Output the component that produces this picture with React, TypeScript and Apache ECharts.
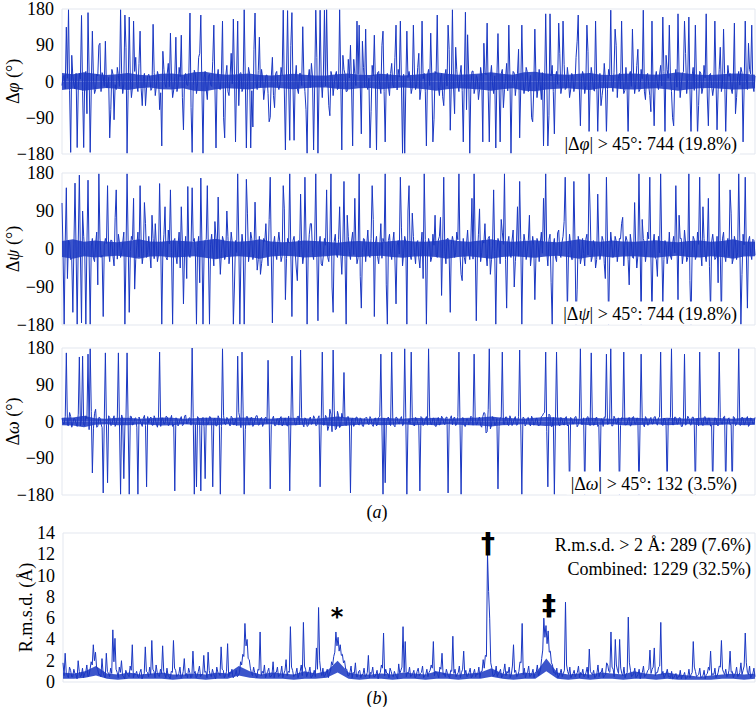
import React, { useEffect, useRef } from "react";
import * as echarts from "echarts";

// Δφ per residue (degrees): first and second residue of each pair
const phiValues = [
  -10, 15, 135, 178, -176, 12, -18, -164, 20, 164, -164, 25, 171, -176, 125, -30, 18, 90, -25, 12,
  100, -15, -140, 30, -95, -20, 15, 178, -30, 165, -178, 160, -40, 150, 60, -25, 125, -60, 20, -15,
  18, -22, 142, -35, 25, -70, -160, 30, -15, 45, 120, -40, 12, -25, 35, 115, -120, 20, -10, 170,
  -176, 28, -30, 60, 165, -178, 25, -45, 18, -12, 140, -165, 30, -20, 150, -140, 40, -35, 70, 155,
  -150, 150, 20, -25, 178, -165, 35, -165, -113, 170, -20, 110, 30, -45, 15, -30, -89, 60, -65, 25,
  -20, 35, 177, -170, 176, -146, 171, -146, 40, -30, 20, 136, -25, -178, 30, 45, -170, 177, -178, 177,
  -40, 177, 178, -60, 25, -35, 15, -20, 178, -170, 30, -25, 55, 90, -160, 20, 150, 140, -130, 35,
  130, -20, -165, 40, 115, -170, 25, -30, 125, -150, 20, -35, 45, -15, 140, 30, 150, -178, -178, 125,
  25, -30, 140, -20, 35, -45, 150, 20, -160, 30, 120, -150, 25, 165, -35, 20, -60, 30, 140, -121,
  178, -80, 30, -25, 40, -150, 172, 116, -178, 25, -30, 15, -45, 35, -150, 20, 145, -150, 40, -30,
  -165, 119, -150, 30, -20, 45, 140, -178, 25, -35, 20, -140, 140, -30, 35, -25, 15, -100, 130, -40,
  30, -45, -160, 168, -160, 168, 40, -130, 25, 145, -30, 150, -20, 35, -40, 20, -25, 60, 165, -110,
  25, -30, 140, -130, 35, -20, 150, -125, 20, -35, 45, -130, 30, 177, -25, 130, -40, 20, 150, -30,
  35, -140, 25, 130, -30, 40, -25, 30, 177, -45, 20, -35, 150, -110, 25, -20, 40, 160, -130, 30,
  140, -25, -110, 30, 168, -40, 20, 150, -30, 160, -130, 35, 140, -135, 25, -30, 40, 168, -110, 20,
  -35, 150, -120, 30, -25, 130, -130, 40, 20, -30, 145, -40, 25, 35, -150, 150, -20, 30, 140, -25,
];
const phiValues2 = [
  12, -18, 8, -22, 65, -9, 20, -14, 6, -25, 18, -80, 24, -16, 9, -20, 14, 95, 22, -12,
  -15, 10, -70, 18, -8, 35, -12, 20, -6, 85, -22, 9, -14, 25, -10, 45, -18, 7, -60, 13,
  8, -16, 22, -11, 14, -28, 75, -7, 19, -13, 6, -21, 110, -9, 12, -40, 15, -8, 23, -65,
  -10, 18, -6, 70, -15, 9, -20, 13, -8, 50, -12, 7, -18, 21, -90, 14, -25, 11, -6, 17,
  14, -60, 22, -17, 8, -12, 19, -23, 80, -6, 27, -14, 9, -19, 16, -100, 12, -35, 20, -11,
  -7, 15, -21, 12, -9, 90, -13, 6, -18, 20, -10, 14, -70, 8, -15, 11, -6, 60, -12, 9,
  16, -11, 7, -85, 13, -8, 25, -15, 10, 65, 18, -24, 9, -13, 55, -10, 17, -7, 100, -14,
  -12, 8, -75, 14, -7, 22, -10, 90, -25, 9, -13, 20, -8, 60, -21, 11, -6, 18, -14, 10,
  9, -15, 21, -8, 70, -19, 7, -24, 16, -10, 12, -95, 20, -14, 9, -38, 15, -11, 80, -7,
  -13, 85, -9, 15, -22, 10, -70, 18, -12, 26, -15, 8, -20, 13, 95, 17, -25, 11, -9, 14,
  10, -7, 19, -65, 8, -23, 15, -10, 21, -6, 80, -18, 9, -12, 24, -8, -90, -20, 11, -15,
  -8, 22, -13, 9, -85, 14, -25, 10, -7, 70, -11, 42, -16, 8, -21, 12, -9, 100, -14, 7,
  15, -10, 75, -7, 12, -24, 9, -15, -60, -11, 6, -20, 14, -9, 23, 90, 8, -17, 11, -22,
  -9, 16, -12, 21, -8, 80, -19, 7, -24, 15, -10, -75, -14, 9, -6, 18, -11, 25, 65, 8,
  12, -90, 8, -14, 19, -9, 24, 70, 7, -17, 14, -22, 10, -60, 21, -15, 9, -36, 16, -10,
  -14, 9, -21, 85, -7, 20, -11, 13, -18, 8, -80, 12, -9, 22, -13, 7, 95, 19, -10, 14,
];

// Δψ per residue (degrees)
const psiValues = [
  109, -178, 145, 20, -25, -150, 156, -178, 175, -175, 30, -178, 163, -178, 25, -30, 40, 178, -20, -160,
  25, 150, -30, 20, -40, 140, 35, -20, 15, -178, 178, -150, 30, 120, -25, 40, 150, -35, 110, -20,
  30, -45, 25, 60, -30, 155, -178, 35, -20, 45, 140, -178, 25, -35, 40, 100, -130, 30, 148, -20,
  145, 25, -178, 30, 168, -178, 20, 150, -178, 35, -40, 25, 123, -60, 30, -25, 90, -35, 40, -178,
  20, 178, -178, 35, -178, 165, -30, 40, -25, 111, -50, 30, -35, 25, 60, -40, 170, -175, 30, -25,
  40, -30, 150, -120, 25, 178, -160, 30, -45, 20, 130, -35, 170, -178, 35, 60, -25, 178, -170, 30,
  -40, 25, 140, -30, 178, -150, 35, -20, 100, -60, 160, -178, 30, -25, 40, 120, -35, 178, -140, 25,
  -30, 45, -20, 150, -160, 30, -35, 60, 25, 178, -178, 35, -25, 40, -130, 20, 170, -40, 30, -178,
  150, -25, 30, -35, 20, -45, 40, 178, -178, 25, -30, 35, 80, -20, 30, -110, 170, -35, 25, -150,
  30, -20, 40, 178, -60, 25, -35, 45, -25, 120, 178, -170, 35, -30, 20, 60, -40, 30, -25, 140,
  -178, 25, -35, 40, 178, -140, 30, -20, 45, -30, 100, 160, -178, 35, -25, 20, -40, 30, -120, 25,
  -30, 40, 120, 178, -40, 35, -178, 25, -30, 45, -20, 30, 170, -150, 35, -25, 160, -178, 30, -35,
  25, -40, 35, 178, -30, 20, -45, 130, -25, 30, -35, 170, -178, 40, -20, 30, -30, 25, 60, -40,
  30, -25, 35, -20, 110, -45, 178, -178, 25, -30, 40, 170, -160, 35, -25, 30, 178, -130, 20, -35,
  40, -25, 30, 150, -120, 25, -35, 45, -30, 178, -178, 30, -25, 40, 170, -40, 25, -30, 120, -150,
  35, -25, 30, 178, -170, 40, -30, 25, 140, -35, 30, -25, 178, -178, 35, 170, -140, 30, -25, 20,
];
const psiValues2 = [
  -14, 20, -70, 16, -22, 11, -6, 19, -13, 90, -9, 15, -18, 7, -21, 12, -85, 26, -15, 9,
  13, -7, 21, -16, 75, -24, 14, -9, 40, -12, 18, -6, 22, -95, 8, -19, 15, -11, 60, -8,
  -10, 80, -23, 9, -13, 20, -7, 100, -26, 12, -8, 19, -15, 10, -45, 14, -9, -70, -12, 7,
  18, -11, 6, -80, 14, -9, 23, -15, 10, -7, 65, -22, 12, -8, 19, -13, 30, -10, 15, -90,
  -8, 21, -14, 10, -19, 85, -7, 24, -11, 16, -25, -60, -12, 18, -6, 70, -16, 11, -9, 14,
  11, -17, 95, -23, 15, -10, 20, -6, -75, -19, 8, -14, 26, -11, 60, -8, 21, -15, 10, -35,
  -15, 9, -20, 14, -90, 18, -12, 22, -9, 16, -24, 80, -6, 19, -13, 10, -21, -65, -8, 23,
  10, -14, 25, 70, 13, -18, 7, -22, 16, -85, 20, -7, 14, -26, 9, -12, 50, -10, 17, 90,
  -12, 85, -8, 15, -21, 10, -70, 23, -7, 13, -19, 9, -14, 21, 75, 17, -6, 24, -15, 11,
  16, -9, 22, -13, -75, -20, 12, -7, 18, -24, 10, -15, 95, -8, 14, -11, 25, -60, 9, -6,
  -7, 15, 70, 11, -25, 14, -9, 21, -90, 8, -17, 23, -10, 16, -6, 80, -14, 9, -22, 13,
  14, -10, 18, -7, 22, -80, 9, -19, 38, -11, 15, 65, 21, -13, 10, -24, 17, -95, 12, -20,
  -11, 23, -14, 90, -18, 12, -25, 16, -9, 20, -70, 13, -21, 10, -15, 19, -8, 24, 75, 9,
  20, -85, 13, -22, 9, -16, 21, 70, 15, -7, 24, -14, 10, -19, -65, -9, 12, -25, 8, -13,
  -16, 12, -9, 19, 80, 25, -10, 15, -20, -75, -12, 22, -17, 11, -7, 100, -13, 9, -42, 16,
  9, -21, -80, -10, 24, -13, 7, -18, 85, -23, 16, -9, 20, -60, 10, -6, 19, -11, 23, -15,
];

// Δω per residue (degrees)
const omegaValues = [
  8, -6, 168, -10, 12, -4, 6, -12, 158, 4, -8, 14, 165, 178, -126, 20, -14, 10, -6, -175,
  168, -150, 10, -8, 14, -5, 168, -178, 6, -10, 168, -178, 12, -6, 9, -178, 4, -12, 15, -160,
  -4, 11, -9, 6, -14, 170, 8, -6, 13, -10, 5, -12, -170, 7, -5, 12, -8, 16, -3, 9,
  180, -178, -160, 8, -170, 10, -140, -7, 12, -9, 6, -11, 14, -178, 178, -6, 10, -4, 13, -8,
  6, 160, 8, 170, -178, 12, -7, 9, -12, 5, 14, -8, 10, -5, 11, 150, -165, 7, -10, 6,
  -9, 12, -6, 8, -11, -170, 160, 7, -8, 13, 175, -6, 9, -12, 5, -7, 14, -10, 8, -160,
  170, -8, 10, -12, 18, 175, -20, 25, -15, 20, 120, -10, 12, -175, 8, -6, 11, -9, 6, -12,
  9, -5, 12, -8, 6, -11, 10, 165, -178, -150, 8, -6, 170, -9, 11, -4, 7, -10, 178, -178,
  6, 170, -8, 10, -5, -170, 9, -7, 12, 178, -6, 8, -11, 5, -9, 13, -4, 10, -175, 7,
  -8, 11, -6, 170, -178, 9, -12, 6, -5, 10, 165, -8, 7, -10, 12, 20, -25, 178, -9, 8,
  -6, -165, 9, 170, -7, 11, -10, 6, -4, 12, -8, 175, -178, 9, -6, 10, -11, 7, -5, 8,
  -9, 12, 20, 170, -160, 15, -12, -178, 170, -8, 10, -6, 9, -11, -175, 7, -5, 12, -8, 178,
  -7, -178, 10, -5, 168, -9, 8, -12, -170, 6, 11, 165, -6, 178, -10, 7, -4, -178, 9, 170,
  -8, 6, -11, 10, -5, 8, -178, 165, -7, 12, -9, 5, -6, 11, -4, 9, 170, -10, 7, -165,
  6, 178, -8, 10, -6, 9, -12, 165, -5, 8, -9, 11, -178, 7, 170, -6, 10, -4, 8, -11,
  -170, 9, -7, 170, -5, 11, -175, 6, -8, -178, 10, -6, 178, -9, 7, -4, 12, -8, 6, -5,
];
const omegaValues2 = [
  -5, 12, -9, 22, -14, 8, -6, 18, -11, 160, -10, 7, -20, 25, -18, 30, -12, 9, -15, 6,
  -8, 14, -10, 6, -12, 9, -7, 16, -140, 10, -6, 13, -9, 7, -14, 11, -5, 8, -10, 12,
  7, -9, 14, -6, 10, -12, 8, -5, 11, -8, 15, -7, 9, -11, 6, -10, 13, -6, 8, -9,
  10, -7, 12, -9, 6, -13, 9, -6, 11, -160, 8, -10, 7, -12, 14, -8, 6, -11, 9, -7,
  -10, 22, -15, 28, -20, 12, -8, 10, -6, 14, -9, 7, -12, 8, -5, 11, -7, 13, -10, 6,
  8, -11, 7, -9, 13, -6, 10, -8, 12, -7, 9, -13, 6, -10, 11, -5, 8, -9, 14, -7,
  -9, 15, -22, 30, -25, 28, -18, 14, -10, 9, -7, 11, -8, 6, -12, 10, -6, 9, -11, 7,
  10, -8, 6, -12, 9, -7, 13, -9, 8, -6, 11, -10, 7, -13, 9, -6, 12, -8, 10, -7,
  -6, 9, -11, 7, -8, 12, -10, 6, -9, 13, -7, 8, -12, 10, -6, 9, -8, 11, -7, 14,
  8, -10, 12, -7, 9, -11, 6, -8, 13, -9, 10, -6, 11, -14, 22, -28, 30, -18, 12, -9,
  7, -12, 9, -6, 11, -8, 14, -10, 6, -9, 12, -7, 10, -11, 8, -6, 13, -9, 7, -10,
  -8, 14, 22, -25, 18, -12, 10, -7, 9, -11, 6, -9, 12, -8, 10, -6, 11, -13, 8, -7,
  9, -6, 12, -10, 7, -8, 11, -9, 6, -12, 10, -7, 8, -11, 13, -6, 9, -10, 7, -8,
  -7, 10, -9, 12, -6, 8, -11, 9, -13, 7, -8, 10, -6, 12, -9, 11, -7, 8, -10, 6,
  10, -8, 11, -6, 9, -12, 7, -9, 13, -7, 10, -8, 6, -11, 9, -10, 12, -6, 8, -9,
  -9, 7, -11, 10, -6, 13, -8, 9, -7, 12, -10, 6, -9, 11, -8, 7, -12, 9, -6, 10,
];

// R.m.s.d. per residue (Å)
const rmsdValues = [
  1.8, 2.7, 0.6, 1.4, 0.5, 1.2, 0.7, 2.0, 0.5, 1.3, 0.8, 1.6, 0.6, 1.9, 3.5, 2.8, 1.2, 0.7, 2.2, 0.6,
  2.7, 0.8, 1.3, 4.9, 4.1, 0.9, 1.4, 2.0, 0.5, 1.1, 0.7, 1.5, 3.5, 0.8, 1.0, 0.4, 1.2, 0.6, 3.3, 0.9,
  1.4, 3.9, 1.0, 1.6, 0.6, 1.2, 3.4, 0.7, 1.3, 0.5, 1.0, 3.9, 1.1, 0.6, 1.4, 0.5, 2.2, 0.8, 1.3, 0.4,
  2.9, 1.0, 0.6, 1.5, 0.7, 2.5, 1.0, 2.8, 0.6, 1.2, 0.5, 1.4, 0.8, 3.3, 1.1, 0.6, 3.6, 0.9, 1.2, 0.5,
  1.1, 0.6, 1.9, 2.6, 5.5, 4.0, 2.1, 0.8, 1.4, 0.6, 1.2, 4.7, 1.0, 1.6, 0.7, 1.3, 0.5, 1.9, 0.9, 1.4,
  0.6, 1.5, 0.8, 2.1, 1.0, 5.2, 1.1, 0.6, 1.3, 0.7, 1.6, 5.6, 1.2, 0.8, 1.4, 0.5, 1.1, 3.2, 7.0, 1.0,
  1.3, 0.6, 1.2, 0.8, 1.9, 2.4, 4.7, 4.2, 3.5, 2.6, 2.0, 1.2, 0.6, 1.5, 0.9, 1.8, 0.5, 1.1, 0.7, 1.3,
  0.6, 2.5, 0.9, 1.4, 0.5, 1.1, 0.7, 1.6, 4.6, 1.2, 0.8, 1.3, 0.6, 1.0, 0.5, 1.7, 1.1, 5.2, 3.8, 0.9,
  1.4, 0.6, 1.1, 0.5, 1.3, 0.8, 1.5, 0.6, 1.2, 0.9, 1.6, 3.8, 1.0, 0.7, 1.4, 2.7, 0.8, 1.2, 0.5, 1.1,
  4.3, 1.2, 0.7, 1.5, 0.9, 2.9, 1.1, 0.6, 1.3, 0.5, 1.2, 0.8, 1.4, 1.0, 2.1, 2.5, 12.0, 6.0, 1.3, 0.6,
  1.5, 0.8, 1.2, 0.6, 1.7, 1.0, 1.4, 0.7, 3.5, 1.1, 0.6, 1.9, 5.5, 1.3, 0.8, 1.5, 0.6, 1.2, 0.9, 1.6,
  0.8, 2.2, 6.0, 5.3, 4.8, 2.9, 1.6, 0.9, 1.3, 0.6, 1.2, 0.8, 7.5, 1.0, 1.4, 0.6, 1.1, 0.7, 1.5, 0.9,
  1.2, 0.6, 1.4, 3.1, 0.8, 1.1, 0.5, 1.6, 0.9, 1.3, 0.6, 1.8, 1.0, 4.7, 1.2, 4.0, 1.1, 4.0, 0.8, 1.4,
  0.7, 6.1, 1.1, 0.6, 1.3, 0.5, 1.2, 0.8, 1.5, 0.6, 1.1, 3.0, 1.2, 3.2, 0.9, 1.4, 5.6, 1.0, 0.6, 1.2,
  0.5, 1.0, 0.4, 0.8, 0.5, 1.1, 0.6, 0.9, 0.4, 1.2, 0.7, 3.8, 1.0, 0.6, 1.3, 0.5, 1.1, 0.7, 1.4, 2.9,
  0.8, 1.3, 0.6, 1.5, 3.9, 0.9, 1.2, 0.6, 2.9, 1.0, 0.7, 1.4, 0.6, 1.8, 1.1, 4.6, 0.9, 1.5, 0.6, 1.3,
];
const rmsdValues2 = [
  0.6, 0.9, 0.4, 1.1, 0.5, 0.8, 0.3, 1.0, 0.6, 0.4, 0.9, 0.5, 1.2, 1.6, 2.0, 1.4, 0.7, 0.5, 0.9, 0.4,
  1.0, 0.5, 0.8, 1.9, 1.2, 0.4, 0.9, 0.6, 0.3, 0.8, 0.5, 1.1, 0.4, 0.7, 0.5, 0.9, 0.3, 0.8, 1.0, 0.5,
  0.7, 1.2, 0.4, 0.9, 0.5, 0.8, 1.0, 0.4, 0.6, 0.3, 0.9, 1.3, 0.5, 0.8, 0.4, 1.0, 0.6, 0.4, 0.9, 0.5,
  0.8, 0.4, 1.0, 0.5, 0.7, 0.9, 0.4, 1.1, 0.5, 0.8, 0.3, 0.9, 0.6, 1.2, 0.4, 1.0, 0.5, 0.8, 0.4, 0.7,
  0.5, 0.9, 1.6, 2.4, 3.4, 2.2, 1.3, 0.6, 0.9, 0.4, 1.1, 0.6, 0.8, 0.4, 1.0, 0.5, 0.7, 0.4, 0.9, 0.5,
  0.8, 0.4, 1.1, 0.6, 0.9, 1.4, 0.5, 0.8, 0.4, 1.0, 0.6, 1.5, 0.5, 0.9, 0.4, 0.7, 0.5, 1.2, 2.0, 0.6,
  0.5, 0.9, 0.4, 1.0, 1.6, 2.8, 3.4, 2.9, 2.5, 1.8, 1.2, 0.6, 0.9, 0.4, 0.8, 0.5, 1.0, 0.4, 0.7, 0.5,
  0.9, 0.4, 0.8, 0.5, 0.7, 0.3, 0.9, 1.3, 0.6, 0.8, 0.4, 1.0, 0.5, 0.7, 0.3, 0.8, 1.4, 0.9, 0.5, 0.8,
  0.5, 0.8, 0.4, 1.0, 0.6, 0.9, 0.4, 0.7, 0.5, 1.1, 1.3, 0.6, 0.9, 0.4, 1.2, 0.7, 0.5, 0.8, 0.4, 1.0,
  0.8, 0.5, 0.9, 0.4, 1.2, 0.7, 0.5, 0.9, 0.4, 0.8, 0.5, 0.7, 0.4, 1.0, 1.3, 2.4, 8.5, 1.8, 0.6, 0.8,
  0.5, 0.9, 0.4, 1.0, 0.6, 0.8, 0.4, 1.5, 0.9, 0.5, 1.0, 1.8, 0.7, 0.4, 0.9, 0.5, 0.8, 0.4, 0.9, 0.6,
  1.2, 3.0, 4.2, 3.6, 2.8, 1.8, 0.9, 0.7, 0.4, 0.8, 0.5, 1.1, 1.6, 0.7, 0.4, 0.8, 0.5, 0.9, 0.4, 0.7,
  0.5, 0.9, 0.4, 1.0, 0.7, 0.4, 0.8, 0.5, 0.9, 0.4, 0.7, 1.6, 0.9, 1.4, 0.5, 1.6, 0.8, 1.3, 0.6, 0.4,
  0.9, 1.8, 0.5, 0.8, 0.4, 0.7, 0.3, 0.9, 0.5, 0.8, 1.2, 0.8, 1.4, 0.6, 0.9, 1.5, 0.7, 0.4, 0.8, 0.5,
  0.4, 0.3, 0.6, 0.3, 0.5, 0.3, 0.6, 0.3, 0.5, 0.4, 0.9, 1.4, 0.5, 0.7, 0.4, 0.6, 0.3, 0.8, 1.1, 0.6,
  0.7, 0.4, 0.9, 1.4, 1.2, 0.7, 0.5, 1.1, 0.9, 0.4, 0.8, 0.5, 0.9, 0.7, 1.5, 1.8, 0.7, 0.4, 0.8, 0.5,
];

// Dense core of small deviations, per coarse bin (half-width for angles)
const phiBand = [
  21, 18, 23, 19, 16, 18, 21, 17, 15, 19, 20, 17, 23, 24, 19, 17, 18, 20, 16, 15, 17, 19, 17, 15, 15, 18, 20, 17, 16, 19, 17, 15,
  17, 19, 23, 19, 17, 18, 20, 23, 19, 17, 23, 24, 20, 18, 17, 19, 21, 17, 16, 19, 20, 18, 17, 19, 23, 19, 17, 16, 18, 20, 19, 17,
];
const psiBand = [
  19, 23, 17, 20, 18, 16, 19, 23, 18, 17, 20, 19, 17, 21, 24, 19, 17, 19, 23, 18, 16, 17, 20, 19, 17, 15, 18, 19, 17, 16, 19, 21,
  18, 17, 19, 23, 19, 17, 20, 23, 19, 17, 19, 21, 18, 16, 19, 23, 19, 17, 20, 18, 17, 19, 21, 18, 16, 19, 20, 17, 19, 23, 18, 17,
];
const omegaBand = [
  9, 10, 14, 8, 7, 9, 9, 7, 8, 10, 9, 7, 8, 9, 9, 7, 10, 9, 8, 7, 9, 9, 8, 7, 9, 12, 10, 8, 7, 9, 8, 7,
  9, 8, 9, 7, 8, 9, 10, 12, 9, 8, 7, 9, 11, 10, 8, 7, 9, 8, 7, 9, 9, 8, 7, 9, 8, 7, 9, 9, 8, 7, 9, 8,
];
// R.m.s.d. core: lower and upper edge per coarse bin (Å)
const rmsdBandLow = [
  0.3, 0.3, 0.4, 0.6, 0.3, 0.2, 0.3, 0.3, 0.3, 0.3, 0.2, 0.3, 0.3, 0.2, 0.3, 0.3, 0.6, 0.4, 0.3, 0.3, 0.3, 0.2, 0.3, 0.3, 0.4, 0.9, 0.3, 0.2, 0.3, 0.3, 0.2, 0.3,
  0.3, 0.2, 0.3, 0.3, 0.2, 0.3, 0.3, 0.5, 0.3, 0.2, 0.3, 0.3, 1.0, 0.3, 0.2, 0.3, 0.2, 0.3, 0.3, 0.2, 0.3, 0.3, 0.2, 0.3, 0.2, 0.2, 0.2, 0.2, 0.3, 0.3, 0.2, 0.3,
];
const rmsdBandHigh = [
  0.9, 0.8, 1.0, 1.5, 0.8, 0.7, 0.9, 0.7, 0.8, 0.9, 0.7, 0.7, 0.8, 0.7, 0.9, 0.8, 1.5, 1.0, 0.7, 0.9, 0.8, 0.7, 1.0, 0.8, 1.0, 2.0, 0.9, 0.7, 0.7, 0.8, 0.7, 0.9,
  0.8, 0.7, 1.0, 0.8, 0.7, 0.8, 0.9, 1.3, 0.8, 0.7, 0.9, 0.8, 2.2, 0.9, 0.7, 0.8, 0.7, 0.9, 0.8, 0.7, 1.0, 0.8, 0.7, 0.9, 0.7, 0.6, 0.5, 0.6, 0.7, 0.8, 0.7, 0.8,
];

const angleTicks = [-180, -90, 0, 90, 180];
const rmsdTicks = [0, 2, 4, 6, 8, 10, 12, 14];

const angleNames = ["Δ{i|φ} (°)", "Δ{i|ψ} (°)", "Δ{i|ω} (°)"];
const angleNotes = [
  "|Δ{i|φ}| > 45°: 744 (19.8%)",
  "|Δ{i|ψ}| > 45°: 744 (19.8%)",
  "|Δ{i|ω}| > 45°: 132 (3.5%)",
];
const rmsdNotes = ["R.m.s.d. > 2 Å: 289 (7.6%)", "Combined: 1229 (32.5%)"];

const FONT = "'Liberation Serif', 'Times New Roman', serif";
const BLUE = "#1a37c2";
const FRAME = "#e3e7ef";

export default function App() {
  const ref = useRef<HTMLDivElement>(null);

  useEffect(() => {
    if (!ref.current) return;
    const chart = echarts.init(ref.current, undefined, { renderer: "svg" });

    const grids = [
      { left: 62, top: 9, width: 693, height: 145 },
      { left: 62, top: 173, width: 693, height: 152 },
      { left: 62, top: 348, width: 693, height: 147 },
      { left: 63, top: 533, width: 692, height: 149 },
    ];

    const interleave = (a: number[], b: number[]) => a.flatMap((v, i) => [v, b[i]]);
    const lines = [
      interleave(phiValues, phiValues2),
      interleave(psiValues, psiValues2),
      interleave(omegaValues, omegaValues2),
      interleave(rmsdValues, rmsdValues2),
    ];
    const bands = [phiBand, psiBand, omegaBand, rmsdBandHigh];
    const minus = (v: number) => (v < 0 ? "\u2212" + Math.abs(v) : String(v));
    const richI = { i: { fontStyle: "italic", fontFamily: FONT, fontSize: 18, color: "#000" } };
    const tickLabel = { fontFamily: FONT, fontSize: 18, lineHeight: 16, color: "#000", margin: 8 };

    const yAxes: any[] = angleNames.map((nm, k) => ({
      gridIndex: k,
      type: "value",
      min: angleTicks[0],
      max: angleTicks[angleTicks.length - 1],
      interval: angleTicks[1] - angleTicks[0],
      axisLine: { show: false },
      axisTick: { show: false },
      splitLine: { show: false },
      axisLabel: { ...tickLabel, formatter: minus },
      name: nm,
      nameLocation: "middle",
      nameGap: 40,
      nameRotate: 90,
      nameMoveOverlap: false,
      nameTextStyle: { fontFamily: FONT, fontSize: 18, color: "#000", rich: richI },
    }));
    yAxes.push({
      gridIndex: 3,
      type: "value",
      min: rmsdTicks[0],
      max: rmsdTicks[rmsdTicks.length - 1],
      interval: rmsdTicks[1] - rmsdTicks[0],
      axisLine: { show: false },
      axisTick: { show: false },
      splitLine: { show: false },
      axisLabel: tickLabel,
      name: "R.m.s.d. (Å)",
      nameLocation: "middle",
      nameGap: 28,
      nameRotate: 90,
      nameMoveOverlap: false,
      nameTextStyle: { fontFamily: FONT, fontSize: 18, color: "#000" },
    });

    const xAxes: any[] = lines.map((arr, k) => ({
      gridIndex: k,
      type: "category",
      boundaryGap: false,
      data: arr.map((_, i) => i + 1),
      show: false,
    }));
    bands.forEach((b, k) =>
      xAxes.push({
        gridIndex: k,
        type: "category",
        boundaryGap: false,
        data: b.map((_, i) => i),
        show: false,
      })
    );

    const series: any[] = [];
    const bandBase = {
      type: "line",
      symbol: "none",
      showSymbol: false,
      silent: true,
      lineStyle: { width: 0 },
      areaStyle: { color: BLUE, opacity: 0.85 },
    };
    [phiBand, psiBand, omegaBand].forEach((b, k) => {
      series.push({ ...bandBase, xAxisIndex: 4 + k, yAxisIndex: k, data: b });
      series.push({ ...bandBase, xAxisIndex: 4 + k, yAxisIndex: k, data: b.map((v) => -v) });
    });
    // R.m.s.d. core: invisible floor plus stacked thickness
    series.push({
      type: "line",
      xAxisIndex: 7,
      yAxisIndex: 3,
      stack: "rmsdCore",
      symbol: "none",
      showSymbol: false,
      silent: true,
      lineStyle: { width: 0 },
      data: rmsdBandLow,
    });
    series.push({
      ...bandBase,
      xAxisIndex: 7,
      yAxisIndex: 3,
      stack: "rmsdCore",
      data: rmsdBandHigh.map((v, i) => Math.max(0, +(v - rmsdBandLow[i]).toFixed(2))),
    });
    lines.forEach((arr, k) =>
      series.push({
        type: "line",
        xAxisIndex: k,
        yAxisIndex: k,
        data: arr,
        symbol: "none",
        showSymbol: false,
        silent: true,
        lineStyle: { color: BLUE, width: 1 },
      })
    );

    const noteY = [143, 313, 483];
    const graphics: any[] = angleNotes.map((t, k) => ({
      type: "text",
      x: 740,
      y: noteY[k],
      z: 100,
      style: {
        text: t,
        fontFamily: FONT,
        fontSize: 18,
        fill: "#000",
        align: "right",
        verticalAlign: "middle",
        textAlign: "right",
        textVerticalAlign: "middle",
        backgroundColor: "#fff",
        padding: [3, 3, 2, 4],
        rich: richI,
      },
    }));
    rmsdNotes.forEach((t, k) => {
      graphics.push({
        type: "text",
        x: 751,
        y: 545 + k * 24,
        z: 100,
        style: {
          text: t,
          fontFamily: FONT,
          fontSize: 18,
          fill: "#000",
          align: "right",
          verticalAlign: "middle",
          textAlign: "right",
          textVerticalAlign: "middle",
        },
      });
    });
    const marks = [
      { t: "*", x: 337, y: 617, s: 24 },
      { t: "†", x: 488, y: 543, s: 28 },
      { t: "‡", x: 549, y: 605, s: 28 },
    ];
    marks.forEach((m) =>
      graphics.push({
        type: "text",
        x: m.x,
        y: m.y,
        z: 100,
        style: {
          text: m.t,
          fontFamily: "'DejaVu Sans', sans-serif",
          fontWeight: "bold",
          fontSize: m.s,
          fill: "#000",
          align: "center",
          verticalAlign: "middle",
          textAlign: "center",
          textVerticalAlign: "middle",
        },
      })
    );
    [
      { t: "({i|a})", y: 512 },
      { t: "({i|b})", y: 698 },
    ].forEach((p) =>
      graphics.push({
        type: "text",
        x: 377,
        y: p.y,
        style: {
          text: p.t,
          fontFamily: FONT,
          fontSize: 18,
          fill: "#000",
          align: "center",
          verticalAlign: "middle",
          textAlign: "center",
          textVerticalAlign: "middle",
          rich: richI,
        },
      })
    );

    chart.setOption({
      animation: false,
      backgroundColor: "#fff",
      grid: grids.map((g) => ({
        ...g,
        show: true,
        borderColor: FRAME,
        borderWidth: 1,
        backgroundColor: "transparent",
        outerBoundsMode: "none",
      })),
      xAxis: xAxes,
      yAxis: yAxes,
      series,
      graphic: graphics,
    });

    return () => chart.dispose();
  }, []);

  return (
    <div
      ref={ref}
      style={{ position: "fixed", left: 0, top: 0, width: 756, height: 707, background: "#fff" }}
    />
  );
}
